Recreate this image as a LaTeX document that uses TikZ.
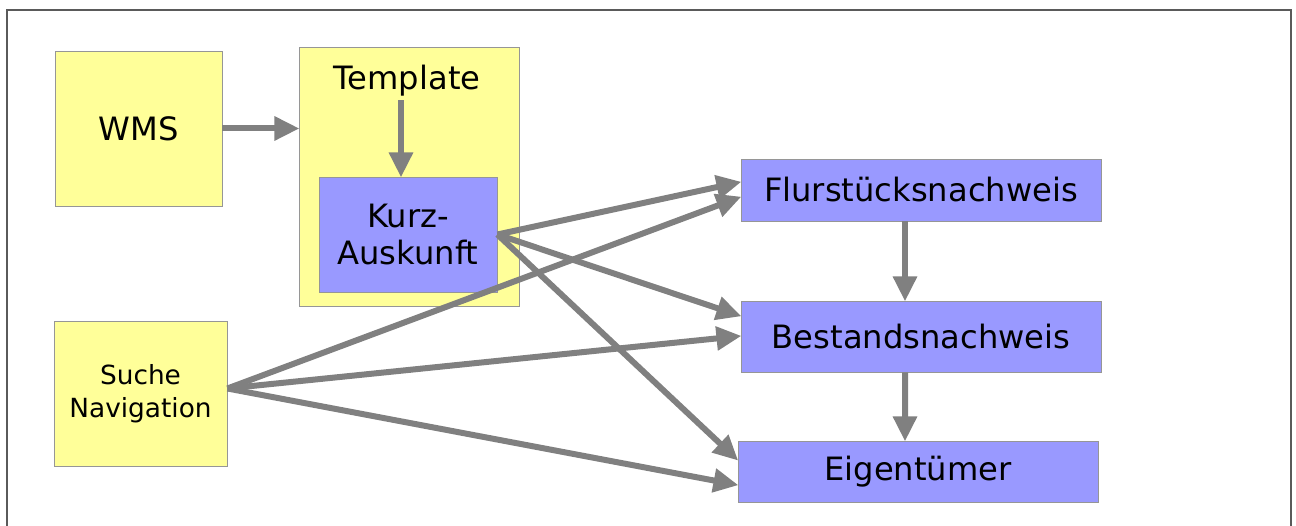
\documentclass[tikz,border=0pt]{standalone}
\usepackage{fontspec}
\setmainfont{DejaVu Sans}
\usepackage{xcolor}
\usepackage{tikz}
\usetikzlibrary{positioning,arrows.meta,calc}
\definecolor{ink}{RGB}{0,0,0}
\definecolor{boxyellow}{RGB}{255,255,153}
\definecolor{boxblue}{RGB}{153,153,255}
\definecolor{boxframe}{RGB}{150,150,150}
\definecolor{arrowgray}{RGB}{128,128,128}
\definecolor{pageframe}{RGB}{90,90,90}
\tikzset{
  ybox/.style={draw=boxframe, fill=boxyellow, align=center, inner sep=2pt,
    font=\fontsize{18.3}{21.5}\selectfont, text=ink, line width=0.5pt},
  bbox/.style={draw=boxframe, fill=boxblue, align=center, inner sep=2pt,
    font=\fontsize{18.3}{21.5}\selectfont, text=ink, line width=0.5pt},
  flow/.style={-{Triangle[length=0.5cm, width=0.46cm]}, line width=0.12cm,
    draw=arrowgray, shorten >=-0.5pt},
}

\begin{document}
\begin{tikzpicture}
\useasboundingbox (0,0) rectangle (25.92,10.52);
\draw[pageframe, line width=0.6pt] (0.14,-0.2) -- (0.14,10.32) -- (25.82,10.32) -- (25.82,-0.2);

% left column
\node[ybox, minimum width=3.34cm, minimum height=3.10cm] (wms) at (2.77,7.95) {WMS};
\node[ybox, minimum width=3.46cm, minimum height=2.90cm,
  font=\fontsize{15}{18.5}\selectfont] (suche) at (2.81,2.65) {Suche\\Navigation};

% template with the short info inside
\node[ybox, minimum width=4.40cm, minimum height=5.18cm] (tpl) at (8.18,6.99) {};
\node[font=\fontsize{18.3}{21.5}\selectfont, inner sep=2pt] (tpllbl) at (8.14,8.9) {Template};
\node[bbox, minimum width=3.56cm, minimum height=2.30cm] (kurz) at (8.16,5.83) {Kurz-\\Auskunft};

% right column
\node[bbox, minimum width=7.20cm, minimum height=1.24cm] (flur) at (18.42,6.72) {Flurstücksnachweis};
\node[bbox, minimum width=7.20cm, minimum height=1.42cm] (best) at (18.42,3.79) {Bestandsnachweis};
\node[bbox, minimum width=7.20cm, minimum height=1.22cm] (eig) at (18.36,1.09) {Eigentümer};

% connectors
\draw[flow] (wms.east) -- (wms.east -| tpl.west);
\draw[flow] ([xshift=-0.12cm]tpllbl.south) -- ([xshift=-0.12cm]tpllbl.south |- kurz.north);
\draw[flow] (kurz.east) -- ([yshift=0.16cm]flur.west);
\draw[flow] (kurz.east) -- ([yshift=0.41cm]best.west);
\draw[flow] (kurz.east) -- ([yshift=0.23cm]eig.west);
\draw[flow] ([yshift=0.1cm]suche.east) -- ([yshift=-0.14cm]flur.west);
\draw[flow] ([yshift=0.1cm]suche.east) -- ([yshift=0.01cm]best.west);
\draw[flow] ([yshift=0.1cm]suche.east) -- ([yshift=-0.27cm]eig.west);
\draw[flow] ([xshift=-0.32cm]flur.south) -- ([xshift=-0.32cm]best.north);
\draw[flow] ([xshift=-0.32cm]best.south) -- ([xshift=-0.26cm]eig.north);
\end{tikzpicture}
\end{document}
